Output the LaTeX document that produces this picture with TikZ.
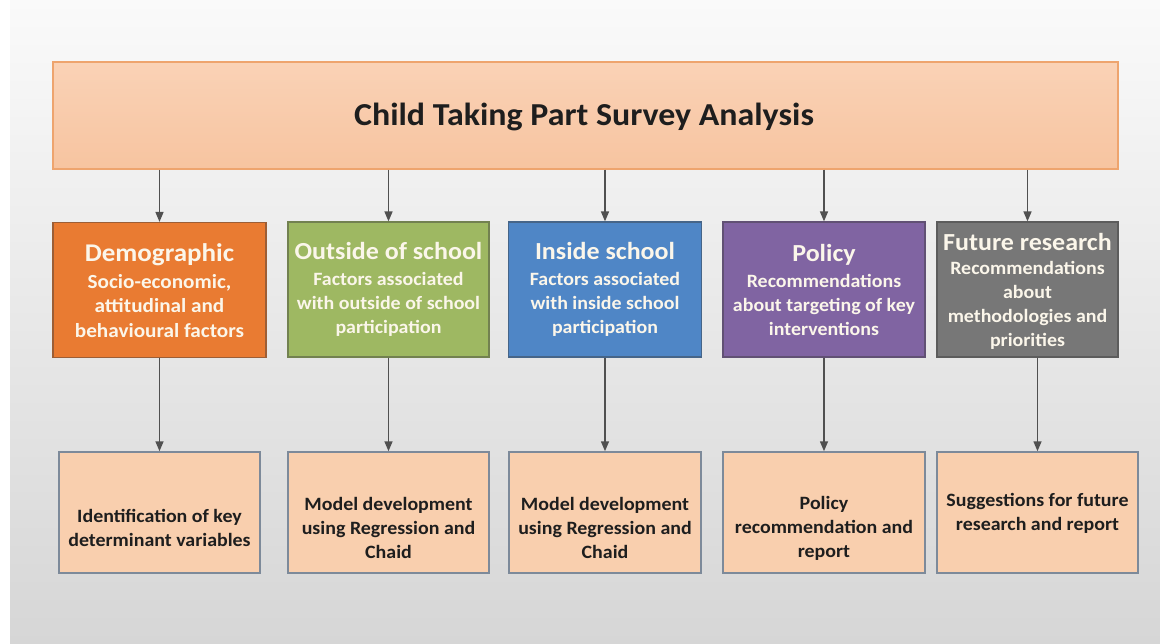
\documentclass[tikz,border=0pt]{standalone}
\usepackage{fontspec}
\setmainfont{Carlito}[FakeStretch=1.06]
\usetikzlibrary{arrows.meta}
\definecolor{bgtop}{HTML}{FAFAFA}
\definecolor{bgbot}{HTML}{D6D6D6}
\definecolor{toptop}{HTML}{FAD2B6}
\definecolor{topbot}{HTML}{F7C4A0}
\definecolor{topdraw}{HTML}{EEA46E}
\definecolor{corange}{HTML}{E97B32}
\definecolor{cgreen}{HTML}{9EB862}
\definecolor{cblue}{HTML}{4F86C6}
\definecolor{cpurple}{HTML}{8064A2}
\definecolor{cgray}{HTML}{777777}
\definecolor{lowfill}{HTML}{F9CFAE}
\definecolor{lowdraw}{HTML}{7D8A9A}
\definecolor{arrcol}{HTML}{505050}
\definecolor{txtlight}{HTML}{FBF6EA}
\definecolor{txtdark}{HTML}{1E1E1E}
\begin{document}
\begin{tikzpicture}[x=1pt,y=-1pt,
  topbox/.style={draw=topdraw, line width=1.2pt, top color=toptop, bottom color=topbot, minimum width=1065pt, minimum height=107pt, inner sep=0pt},
  midbox/.style={draw=#1!70!black!80!gray, line width=1.2pt, fill=#1, minimum height=135pt, inner sep=0pt},
  lowbox/.style={draw=lowdraw, line width=1.5pt, fill=lowfill, minimum height=121pt, inner sep=0pt},
  midtitle/.style={text=txtlight, font=\fontsize{24.5}{28}\selectfont\bfseries, inner sep=0pt},
  midbody/.style={text=txtlight, font=\fontsize{18.8}{24}\selectfont\bfseries, align=center, inner sep=0pt},
  lowtext/.style={text=txtdark, font=\fontsize{18.8}{24}\selectfont\bfseries, align=center, inner sep=0pt},
  arr/.style={draw=arrcol, line width=1.5pt, -{Triangle[length=10pt,width=8pt]}}
]
\useasboundingbox (0,0) rectangle (1160,644);
\fill[white] (0,0) rectangle (1160,644);
\shade[top color=bgtop, bottom color=bgbot] (10,0) rectangle (1160,644);

% top
\node[topbox] (top) at (585.5,115.5) {};
\node[text=txtdark, font=\fontsize{32}{36}\selectfont\bfseries, inner sep=0pt] (title) at (584,117) {Child Taking Part Survey Analysis};

% middle row
\node[midbox=corange, minimum width=213pt] (d) at (159.5,290) {};
\node[midbox=cgreen, minimum width=201pt] (o) at (388.5,289.5) {};
\node[midbox=cblue, minimum width=193pt] (i) at (605,289.5) {};
\node[midbox=cpurple, minimum width=202pt] (p) at (824,289.5) {};
\node[midbox=cgray, minimum width=181pt] (f) at (1027.5,289.5) {};

\node[midtitle, font=\fontsize{25.5}{28}\selectfont\bfseries] (dt) at (159.5,255) {Demographic};
\node[midbody, font=\fontsize{20}{24.5}\selectfont\bfseries] (db) at (159.5,306) {Socio-economic,\\attitudinal and\\behavioural factors};
\node[midtitle] (ot) at (388.5,250.5) {Outside of school};
\node[midbody] (ob) at (388.5,304) {Factors associated\\with outside of school\\participation};
\node[midtitle] (it) at (605,250.5) {Inside school};
\node[midbody] (ib) at (605,304) {Factors associated\\with inside school\\participation};
\node[midtitle] (pt) at (824,255) {Policy};
\node[midbody] (pb) at (824,305) {Recommendations\\about targeting of key\\interventions};
\node[midtitle] (ft) at (1027.5,242) {Future research};
\node[midbody] (fb) at (1027.5,305.5) {Recommendations\\about\\methodologies and\\priorities};

% bottom row
\node[lowbox, minimum width=201pt] (d3) at (159.5,512.5) {};
\node[lowbox, minimum width=201pt] (o3) at (388.5,512.5) {};
\node[lowbox, minimum width=192pt] (i3) at (605,512.5) {};
\node[lowbox, minimum width=202pt] (p3) at (824,512.5) {};
\node[lowbox, minimum width=201pt] (f3) at (1037.5,512.5) {};

\node[lowtext] (d3t) at (159.5,528) {Identification of key\\determinant variables};
\node[lowtext] (o3t) at (388.5,528) {Model development\\using Regression and\\Chaid};
\node[lowtext] (i3t) at (605,528) {Model development\\using Regression and\\Chaid};
\node[lowtext] (p3t) at (824,528) {Policy\\recommendation and\\report};
\node[lowtext] (f3t) at (1037.5,513) {Suggestions for future\\research and report};

% arrows top -> middle
\foreach \n in {d,o,i,p,f}{
  \draw[arr] (top.south -| \n.north) -- (\n.north);
}
% arrows middle -> bottom
\draw[arr] (d.south -| d3.north) -- (d3.north);
\draw[arr] (o.south -| o3.north) -- (o3.north);
\draw[arr] (i.south -| i3.north) -- (i3.north);
\draw[arr] (p.south -| p3.north) -- (p3.north);
\draw[arr] (f.south -| f3.north) -- (f3.north);
\end{tikzpicture}
\end{document}
